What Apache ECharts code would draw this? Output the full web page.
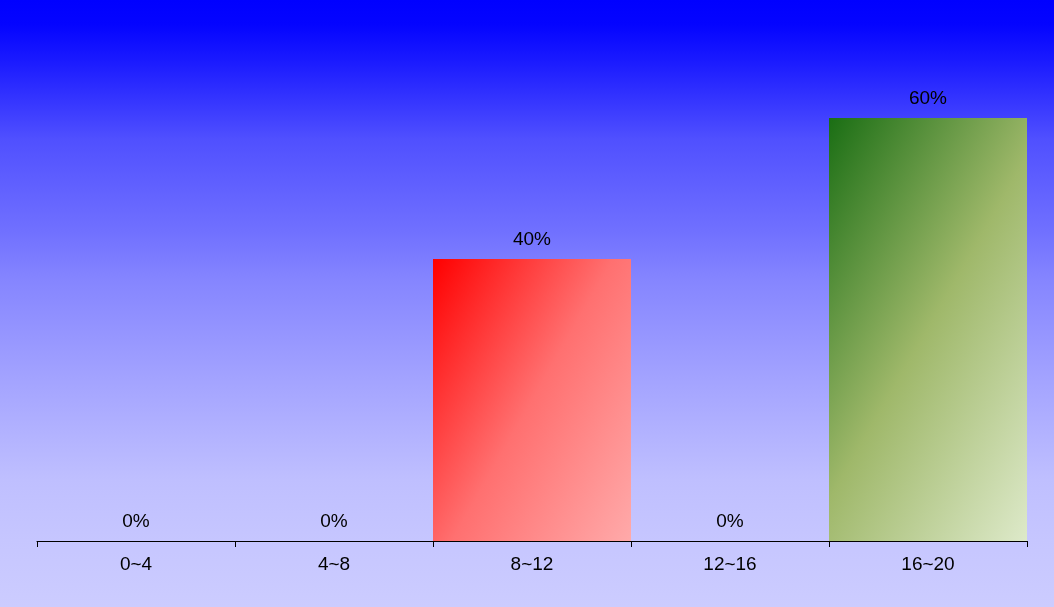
<!DOCTYPE html>
<html lang="en">
<head>
    <meta charset="UTF-8">
    <title>Chart</title>
    <script src="https://cdn.jsdelivr.net/npm/echarts@6/dist/echarts.min.js"></script>
    <style>
        html, body { margin: 0; padding: 0; }
    </style>
</head>
<body>
<div id="main" style="width: 1054px;height:607px;"></div>
<script type="text/javascript">
    var categories = ['0~4', '4~8', '8~12', '12~16', '16~20'];
    var values = [0, 0, 40, 0, 60];

    // gradient at ~30deg in pixel space, expressed in bar-relative coords
    // (x2, y2 worked out from the bar sizes)
    function barColor(i) {
        if (i === 2) {
            return new echarts.graphic.LinearGradient(0, 0, 1.37, 0.55, [
                {offset: 0, color: '#ff0000'},
                {offset: 0.5, color: '#ff7070'},
                {offset: 1, color: '#ffaaaa'}
            ]);
        }
        return new echarts.graphic.LinearGradient(0, 0, 1.67, 0.45, [
            {offset: 0, color: '#1a6e14'},
            {offset: 0.5, color: '#9fb86a'},
            {offset: 1, color: '#dde9c9'}
        ]);
    }

    var myChart = echarts.init(document.getElementById('main'));
    myChart.setOption({
        animation: false,
        backgroundColor: new echarts.graphic.LinearGradient(0, 0, 0, 1, [
            {offset: 0, color: '#0000ff'},
            {offset: 0.04, color: '#0404ff'},
            {offset: 0.1, color: '#1a1aff'},
            {offset: 0.23, color: '#5050ff'},
            {offset: 0.38, color: '#7070ff'},
            {offset: 0.46, color: '#8585ff'},
            {offset: 0.63, color: '#a4a4ff'},
            {offset: 0.79, color: '#bfbfff'},
            {offset: 0.89, color: '#c6c6ff'},
            {offset: 1, color: '#ccccff'}
        ]),
        grid: {
            left: 37,
            right: 27,
            top: 118,
            bottom: 66
        },
        xAxis: {
            type: 'category',
            data: categories,
            axisLine: {lineStyle: {color: '#000', width: 1}},
            axisTick: {show: true, length: 6, lineStyle: {color: '#000'}},
            axisLabel: {
                color: '#000',
                fontSize: 19,
                fontFamily: 'Liberation Sans, Arial, sans-serif',
                margin: 14
            }
        },
        yAxis: {
            type: 'value',
            min: 0,
            max: 60,
            show: false,
            splitLine: {show: false}
        },
        series: [{
            type: 'bar',
            barCategoryGap: 0,
            data: values.map(function (v, i) {
                return {value: v, itemStyle: {color: barColor(i)}};
            }),
            label: {
                show: true,
                position: 'top',
                distance: 10,
                color: '#000',
                fontSize: 19,
                fontFamily: 'Liberation Sans, Arial, sans-serif',
                formatter: '{c}%'
            }
        }]
    });
</script>
</body>
</html>
